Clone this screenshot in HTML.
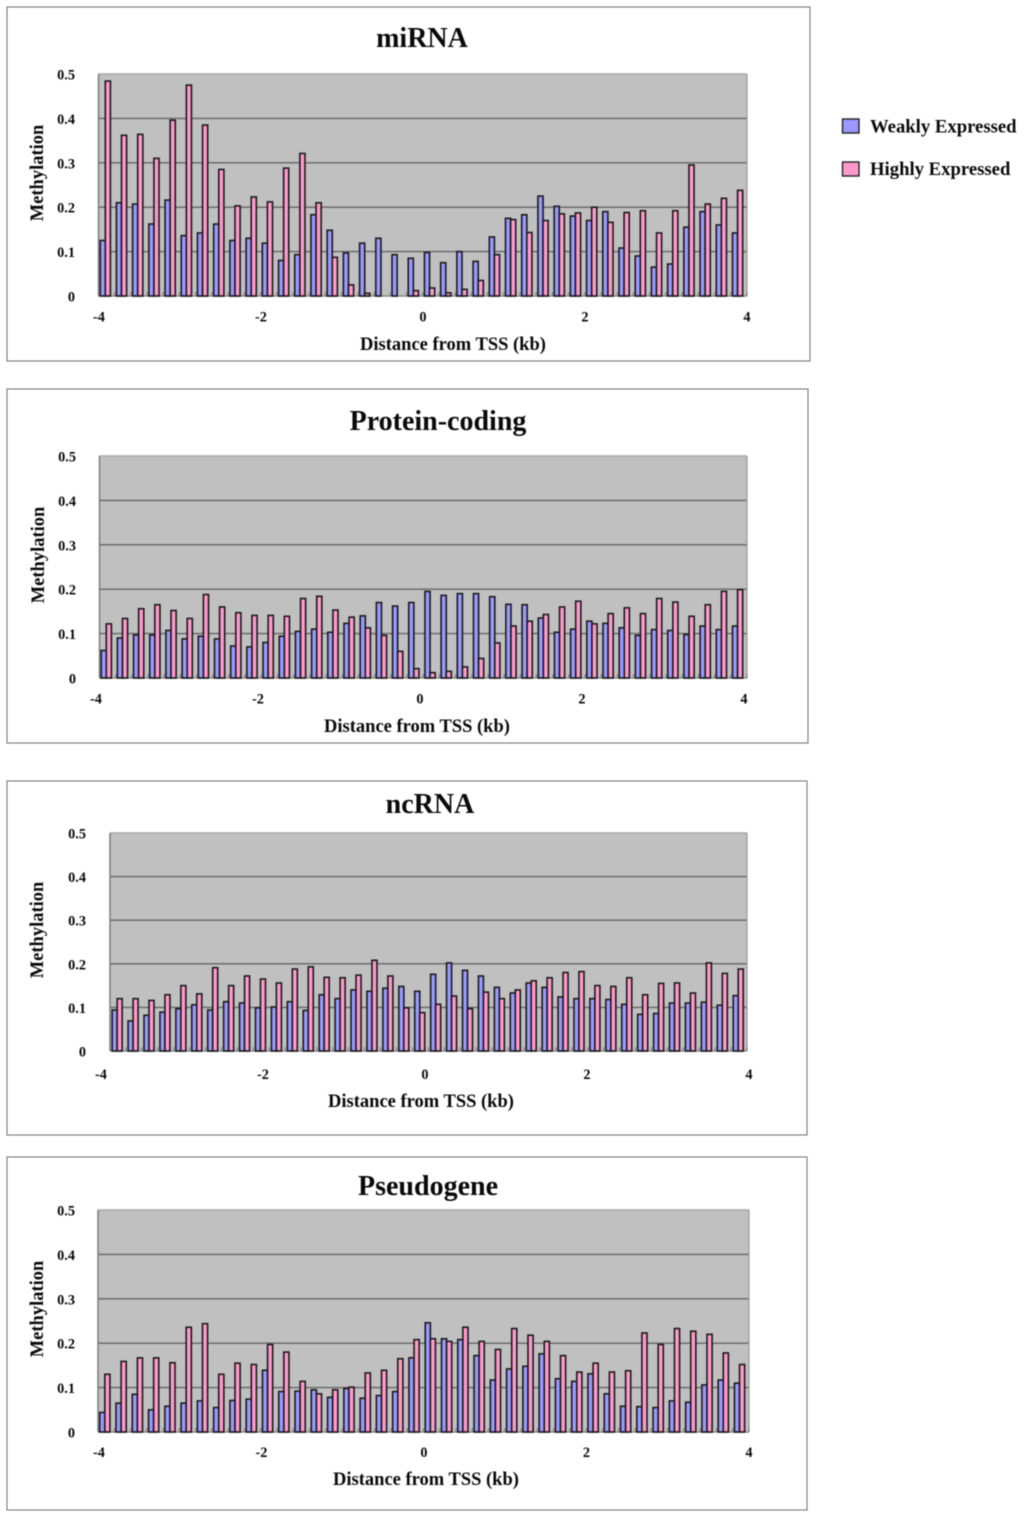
<!DOCTYPE html>
<html>
<head>
<meta charset="utf-8">
<title>Methylation by distance from TSS</title>
<style>
html,body{margin:0;padding:0;background:#fff;width:1024px;height:1518px;overflow:hidden}
svg{display:block}
text{font-family:"Liberation Serif",serif;font-weight:bold;fill:#0a0a0a}
.panel{fill:#fff;stroke:#6f6f6f;stroke-width:1}
.title{font-size:28px;text-anchor:middle}
.axis-title{font-size:18.5px;text-anchor:middle}
.tick{font-size:14.3px}
.legend-text{font-size:18.7px}
</style>
</head>
<body>
<svg id="figure" xmlns="http://www.w3.org/2000/svg" width="1024" height="1518" viewBox="0 0 1024 1518">
  <g style="filter:blur(0.4px)">
  <g id="chart-mirna">
    <rect class="panel" x="7" y="7" width="803" height="354"/>
    <text class="title" x="422" y="47">miRNA</text>
    <text class="axis-title" x="453" y="350">Distance from TSS (kb)</text>
    <text class="axis-title" transform="translate(43 173) rotate(-90)">Methylation</text>
  </g>
  <g id="chart-protein">
    <rect class="panel" x="7" y="389" width="801" height="354"/>
    <text class="title" x="438" y="430">Protein-coding</text>
    <text class="axis-title" x="417" y="732">Distance from TSS (kb)</text>
    <text class="axis-title" transform="translate(44 555) rotate(-90)">Methylation</text>
  </g>
  <g id="chart-ncrna">
    <rect class="panel" x="7" y="781" width="800" height="354"/>
    <text class="title" x="430" y="813">ncRNA</text>
    <text class="axis-title" x="421" y="1107">Distance from TSS (kb)</text>
    <text class="axis-title" transform="translate(43 930) rotate(-90)">Methylation</text>
  </g>
  <g id="chart-pseudogene">
    <rect class="panel" x="7" y="1157" width="800" height="353"/>
    <text class="title" x="428" y="1195">Pseudogene</text>
    <text class="axis-title" x="426" y="1485">Distance from TSS (kb)</text>
    <text class="axis-title" transform="translate(43 1309) rotate(-90)">Methylation</text>
  </g>
  <g>
    <g>
      <rect x="842.5" y="119" width="16.5" height="14" fill="#9999ff" stroke="#222" stroke-width="1.4"/>
      <text class="legend-text" x="870" y="132.500">Weakly Expressed</text>
    </g>
    <g>
      <rect x="842.5" y="162" width="16.5" height="14" fill="#ff99cc" stroke="#222" stroke-width="1.4"/>
      <text class="legend-text" x="870" y="175">Highly Expressed</text>
    </g>
  </g>
  </g>
</svg>
<script>
const yTicks = [0, 0.1, 0.2, 0.3, 0.4, 0.5];
const xTicks = [-4, -2, 0, 2, 4];

const mirnaWeak = [.125,.21,.207,.162,.216,.136,.142,.162,.125,.13,.119,.08,.093,.183,.148,.097,.119,.13,.093,.085,.098,.075,.1,.078,.133,.175,.183,.225,.202,.18,.17,.19,.108,.09,.065,.072,.155,.19,.16,.142];
const mirnaHigh = [.484,.362,.364,.31,.396,.475,.385,.285,.203,.223,.212,.288,.321,.21,.087,.025,.006,0,0,.012,.018,.007,.015,.035,.093,.172,.143,.17,.185,.187,.2,.166,.188,.192,.142,.192,.295,.207,.22,.238];

const proteinWeak = [.062,.09,.097,.097,.107,.088,.094,.088,.072,.07,.08,.094,.105,.11,.103,.123,.14,.17,.162,.17,.195,.186,.19,.19,.183,.166,.165,.135,.103,.11,.128,.123,.113,.096,.109,.107,.098,.117,.109,.117];
const proteinHigh = [.122,.134,.156,.165,.152,.134,.188,.16,.147,.141,.141,.139,.179,.184,.153,.137,.113,.096,.06,.021,.012,.015,.025,.044,.079,.117,.128,.143,.16,.173,.122,.145,.158,.145,.179,.171,.139,.165,.195,.199];

const ncrnaWeak = [.094,.069,.082,.089,.097,.106,.094,.113,.11,.099,.101,.113,.093,.129,.12,.14,.137,.144,.148,.137,.176,.202,.185,.172,.146,.133,.156,.146,.124,.12,.12,.118,.107,.084,.086,.11,.11,.112,.105,.127];
const ncrnaHigh = [.12,.12,.116,.129,.15,.131,.191,.15,.172,.165,.156,.188,.193,.169,.168,.174,.208,.172,.099,.088,.107,.126,.097,.135,.12,.14,.161,.168,.18,.182,.15,.148,.168,.129,.155,.156,.133,.202,.178,.188];

const pseudoWeak = [.044,.065,.085,.05,.058,.065,.07,.055,.071,.074,.139,.091,.092,.095,.078,.098,.076,.082,.091,.167,.246,.21,.208,.172,.117,.142,.148,.176,.12,.114,.131,.086,.058,.057,.055,.07,.067,.106,.117,.11];
const pseudoHigh = [.13,.159,.167,.167,.156,.236,.244,.13,.155,.152,.197,.18,.114,.086,.095,.101,.133,.139,.165,.208,.21,.204,.236,.204,.186,.233,.218,.204,.172,.135,.155,.135,.138,.223,.197,.233,.227,.22,.178,.152];

const SVGNS = 'http://www.w3.org/2000/svg';

function make(tag, attrs, parent) {
  const el = document.createElementNS(SVGNS, tag);
  for (const k in attrs) el.setAttribute(k, attrs[k]);
  parent.appendChild(el);
  return el;
}

function drawChart(cfg, weak, high) {
  const root = document.getElementById(cfg.id);
  const n = weak.length;
  const yScale = v => cfg.bottom - (v / yTicks[yTicks.length - 1]) * (cfg.bottom - cfg.top);
  const band = (cfg.right - cfg.left) / n;
  const xLabel = v => cfg.xLabelLeft + (v - xTicks[0]) / (xTicks[xTicks.length - 1] - xTicks[0]) * (cfg.xLabelRight - cfg.xLabelLeft);

  const plot = make('rect', {x: cfg.left, y: cfg.top, width: cfg.right - cfg.left, height: cfg.bottom - cfg.top, fill: '#c0c0c0'}, root);
  
  

  yTicks.forEach(function (t) {
    const y = yScale(t);
    const isBase = t === 0;
    const grid = make('line', {x1: cfg.left, x2: cfg.right, y1: y, y2: y, stroke: t === 0.5 ? '#a8a8a8' : (isBase ? '#8a8a8a' : '#666666'), 'stroke-width': 1.4}, root);
    
    
    const label = make('text', {class: 'tick', x: cfg.yLabelRight, y: y + 5.5, 'text-anchor': 'end'}, root);
    label.textContent = String(t);
    
    
  });

  const yAxis = make('line', {x1: cfg.left, x2: cfg.left, y1: cfg.top, y2: cfg.bottom, stroke: '#777777', 'stroke-width': 1.4}, root);
  
  
  const rightEdge = make('line', {x1: cfg.right, x2: cfg.right, y1: cfg.top, y2: cfg.bottom, stroke: '#9a9a9a', 'stroke-width': 1.2}, root);
  
  

  for (let i = 0; i <= n; i++) {
    const x = cfg.left + i * band;
    const mark = make('line', {x1: x, x2: x, y1: cfg.bottom - 4, y2: cfg.bottom, stroke: '#777777', 'stroke-width': 1}, root);
    
    
  }

  for (let i = 0; i < n; i++) {
    const cx = cfg.left + band * (i + 0.5) + cfg.barShift;
    const w = cfg.barWidth;
    const yW = yScale(weak[i]);
    const yH = yScale(high[i]);
    if (weak[i] > 0) {
      const barW = make('rect', {x: cx - w, y: yW, width: w, height: cfg.bottom - yW, fill: '#9999ff', stroke: '#1a1a1a', 'stroke-width': 1.6}, root);
      
      
    }
    if (high[i] > 0) {
      const barH = make('rect', {x: cx, y: yH, width: w, height: cfg.bottom - yH, fill: '#ff99cc', stroke: '#1a1a1a', 'stroke-width': 1.6}, root);
      
      
    }
  }

  xTicks.forEach(function (t) {
    const label = make('text', {class: 'tick', x: xLabel(t), y: cfg.xLabelY, 'text-anchor': 'middle'}, root);
    label.textContent = String(t);
    
    
  });
}

drawChart({id: 'chart-mirna', name: 'mirna', left: 98.5, right: 747, top: 74, bottom: 296, yLabelRight: 75, xLabelLeft: 99, xLabelRight: 747, xLabelY: 321.5, barShift: -1.3, barWidth: 5.1}, mirnaWeak, mirnaHigh);
drawChart({id: 'chart-protein', name: 'protein', left: 99.5, right: 747, top: 456, bottom: 678, yLabelRight: 76, xLabelLeft: 96, xLabelRight: 744, xLabelY: 703.5, barShift: -1.3, barWidth: 5.1}, proteinWeak, proteinHigh);
drawChart({id: 'chart-ncrna', name: 'ncrna', left: 110, right: 747, top: 833, bottom: 1051, yLabelRight: 86, xLabelLeft: 101, xLabelRight: 749, xLabelY: 1079, barShift: -0.8, barWidth: 5}, ncrnaWeak, ncrnaHigh);
drawChart({id: 'chart-pseudogene', name: 'pseudogene', left: 98, right: 749, top: 1210, bottom: 1432, yLabelRight: 75, xLabelLeft: 99, xLabelRight: 749, xLabelY: 1457, barShift: -1.3, barWidth: 5.1}, pseudoWeak, pseudoHigh);
</script>
</body>
</html>
